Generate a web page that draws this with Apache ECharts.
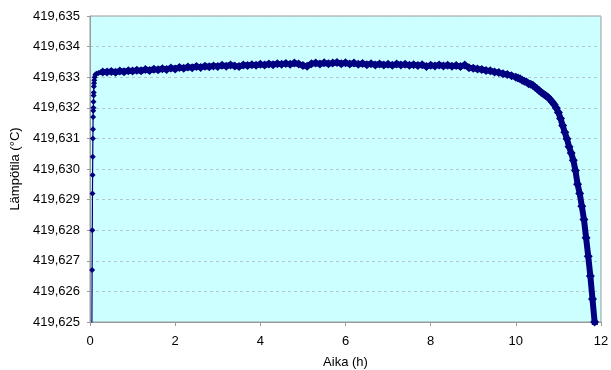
<!DOCTYPE html>
<html>
<head>
<meta charset="utf-8">
<script src="https://cdn.jsdelivr.net/npm/echarts@6/dist/echarts.min.js"></script>
<style>
  html, body { margin: 0; padding: 0; background: #fff; }
  #chart { width: 611px; height: 370px; }
</style>
</head>
<body>
<div id="chart"></div>
<script>
// time (h)
const hours = [
  0.040, 0.050, 0.054, 0.058, 0.061, 0.064, 0.067, 0.070, 0.073, 0.076,
  0.079, 0.082, 0.085, 0.088, 0.091, 0.095, 0.100, 0.110, 0.125, 0.150,
  0.20, 0.25, 0.30,
  0.4, 0.5, 0.6, 0.7, 0.8, 0.9, 1.0, 1.1, 1.2, 1.3, 1.4, 1.5, 1.6, 1.7, 1.8, 1.9,
  2.0, 2.1, 2.2, 2.3, 2.4, 2.5, 2.6, 2.7, 2.8, 2.9,
  3.0, 3.1, 3.2, 3.3, 3.4, 3.5, 3.6, 3.7, 3.8, 3.9,
  4.0, 4.1, 4.2, 4.3, 4.4, 4.5, 4.6, 4.7, 4.8, 4.9,
  5.0, 5.1, 5.2, 5.3, 5.4, 5.5, 5.6, 5.7, 5.8, 5.9,
  6.0, 6.1, 6.2, 6.3, 6.4, 6.5, 6.6, 6.7, 6.8, 6.9,
  7.0, 7.1, 7.2, 7.3, 7.4, 7.5, 7.6, 7.7, 7.8, 7.9,
  8.0, 8.1, 8.2, 8.3, 8.4, 8.5, 8.6, 8.7, 8.8, 8.9,
  9.0, 9.1, 9.2, 9.3, 9.4, 9.5, 9.6, 9.7, 9.8, 9.9,
  10.00, 10.05, 10.10, 10.15, 10.20, 10.25, 10.30, 10.35, 10.40, 10.45,
  10.50, 10.55, 10.60, 10.65, 10.70, 10.75, 10.80, 10.85, 10.90, 10.95,
  11.00, 11.05, 11.10, 11.15, 11.20, 11.25, 11.30, 11.35, 11.40, 11.45,
  11.50, 11.55, 11.60, 11.65, 11.70, 11.75, 11.80, 11.85, 11.87
]

// temperature (°C)
const temps = [
  419.6235, 419.6267, 419.6280, 419.6292, 419.6298, 419.6304, 419.6310, 419.6313, 419.6317, 419.6319,
  419.6320, 419.6322, 419.6324, 419.6325, 419.6327, 419.6328, 419.6329, 419.63300, 419.63308, 419.63311,
  419.63314, 419.63316, 419.63317,
  419.63317, 419.63319, 419.63316, 419.63320, 419.63318, 419.63321, 419.63320, 419.63323, 419.63321, 419.63325, 419.63322, 419.63326, 419.63324, 419.63328, 419.63325, 419.63330,
  419.63327, 419.63332, 419.63329, 419.63333, 419.63331, 419.63335, 419.63332, 419.63336, 419.63334, 419.63337,
  419.63335, 419.63339, 419.63336, 419.63340, 419.63337, 419.63335, 419.63340, 419.63338, 419.63341, 419.63339,
  419.63342, 419.63340, 419.63343, 419.63341, 419.63344, 419.63342, 419.63345, 419.63342, 419.63346, 419.63343,
  419.63338, 419.63336, 419.63344, 419.63346, 419.63343, 419.63347, 419.63344, 419.63346, 419.63348, 419.63344,
  419.63347, 419.63343, 419.63346, 419.63342, 419.63345, 419.63341, 419.63344, 419.63340, 419.63343, 419.63340,
  419.63342, 419.63339, 419.63343, 419.63340, 419.63342, 419.63339, 419.63341, 419.63338, 419.63341, 419.63335,
  419.63339, 419.63337, 419.63340, 419.63337, 419.63339, 419.63336, 419.63338, 419.63335, 419.63340, 419.63331,
  419.63329, 419.63327, 419.63325, 419.63322, 419.63321, 419.63317, 419.63315, 419.63311, 419.63309, 419.63305,
  419.63300, 419.63297, 419.63295, 419.63290, 419.63287, 419.63284, 419.63279, 419.63277, 419.63274, 419.63267,
  419.63262, 419.63256, 419.63250, 419.63245, 419.63240, 419.63235, 419.63228, 419.63220, 419.63211, 419.63199,
  419.63185, 419.63165, 419.63142, 419.63120, 419.63099, 419.63073, 419.63052, 419.63029, 419.62995, 419.62950,
  419.62920, 419.62878, 419.62835, 419.62775, 419.62715, 419.62650, 419.62575, 419.62500, 419.62470
]

// the first samples (fast warm-up) sit far apart; after that they overlap into a thick band
const warmupCount = 23

const points = hours.map((h, i) => [h, temps[i]])
const warmup = points.slice(0, warmupCount)
const steady = points.slice(warmupCount - 1)

const navy = '#000080'
const fontFamily = '"Liberation Sans", Arial, sans-serif'
const chart = echarts.init(document.getElementById('chart'))

chart.setOption({
  animation: false,
  grid: {
    left: 90, right: 10, top: 16, bottom: 48,
    outerBoundsMode: 'none',
    show: true,
    backgroundColor: '#ccffff',
    borderColor: '#9a9a9a',
    borderWidth: 1,
  },
  xAxis: {
    type: 'value',
    min: 0,
    max: 12,
    interval: 2,
    name: 'Aika (h)',
    nameLocation: 'middle',
    nameGap: 34,
    nameTextStyle: { color: '#000', fontSize: 13, fontFamily },
    axisLine: { lineStyle: { color: '#9a9a9a' } },
    axisTick: { show: true, length: 4, lineStyle: { color: '#9a9a9a' } },
    axisLabel: { color: '#000', fontSize: 13, fontFamily, margin: 13 },
    splitLine: { show: false },
  },
  yAxis: {
    type: 'value',
    min: 419.625,
    max: 419.635,
    interval: 0.001,
    name: 'Lämpötila (°C)',
    nameLocation: 'middle',
    nameGap: 58,
    nameTextStyle: { color: '#000', fontSize: 13, fontFamily },
    axisLine: { show: true, lineStyle: { color: '#9a9a9a' } },
    axisTick: { show: true, length: 3, lineStyle: { color: '#9a9a9a' } },
    axisLabel: {
      color: '#000', fontSize: 13, fontFamily, margin: 10,
      formatter: (v) => v.toFixed(3).replace('.', ','),
    },
    splitLine: { show: true, lineStyle: { color: '#b8c8c8', type: [3, 3], width: 1 } },
  },
  series: [
    {
      type: 'line',
      data: warmup,
      clip: true,
      symbol: 'diamond',
      symbolSize: 6,
      itemStyle: { color: navy },
      lineStyle: { color: navy, width: 1.2 },
    },
    {
      type: 'line',
      data: steady,
      clip: true,
      symbol: 'diamond',
      symbolSize: 9,
      itemStyle: { color: navy },
      lineStyle: { color: navy, width: 6, join: 'round', cap: 'round' },
    },
  ],
})
</script>
</body>
</html>
